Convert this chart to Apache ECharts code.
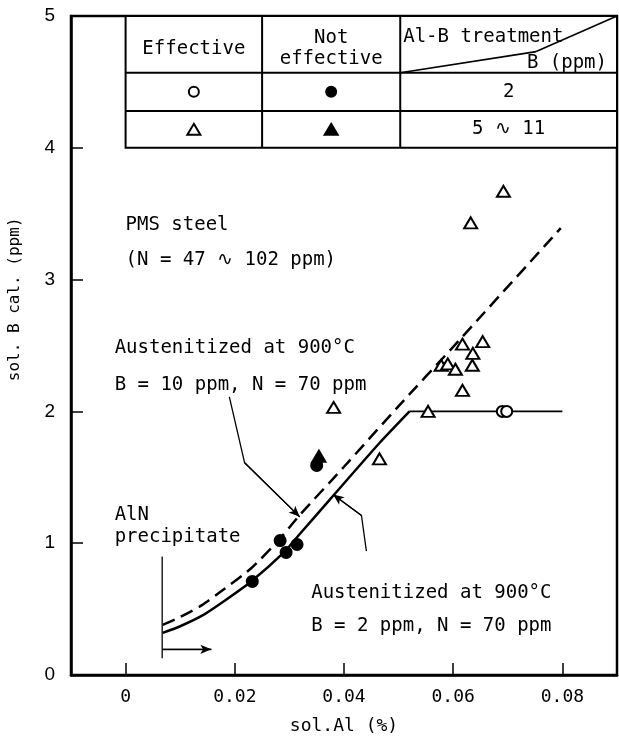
<!DOCTYPE html>
<html>
<head>
<meta charset="utf-8">
<script src="https://cdn.jsdelivr.net/npm/echarts@6/dist/echarts.min.js"></script>
<style>
html, body { margin: 0; padding: 0; background: #fff; }
#main { width: 619px; height: 739px; }
</style>
</head>
<body>
<div id="main"></div>
<script>
//坐标轴刻度
var xTicks = [0, 0.02, 0.04, 0.06, 0.08];
var yTicks = [0, 1, 2, 3, 4, 5];

//测量点 (sol.Al %, sol.B ppm)
var effCircle = [[0.0690, 2.0], [0.0698, 2.0]];
var notEffCircle = [[0.0232, 0.71], [0.0283, 1.02], [0.0294, 0.93], [0.0314, 0.99], [0.0350, 1.59]];
var effTriangle = [[0.0381, 2.03], [0.0465, 1.64], [0.0554, 2.0], [0.0578, 2.35], [0.0590, 2.36],
	[0.0604, 2.32], [0.0617, 2.51], [0.0617, 2.16], [0.0636, 2.44], [0.0635, 2.35],
	[0.0654, 2.53], [0.0632, 3.43], [0.0692, 3.67]];
var notEffTriangle = [[0.0354, 1.66]];

//计算曲线
var curveB2 = [[0.0068, 0.32], [0.010, 0.37], [0.014, 0.45], [0.018, 0.56], [0.023, 0.71],
	[0.029, 0.93], [0.0317, 1.06], [0.0376, 1.34], [0.0465, 1.76], [0.052, 2.0]];
var flatB2 = [[0.052, 2.0], [0.080, 2.0]];
var curveB10 = [[0.0068, 0.38], [0.010, 0.44], [0.014, 0.53], [0.018, 0.65], [0.023, 0.81],
	[0.028, 1.02], [0.0316, 1.20], [0.040, 1.58], [0.050, 2.04], [0.060, 2.49], [0.0797, 3.39]];

//表格文字
var tableHead = ['Effective', 'Not\neffective', 'Al-B treatment', 'B (ppm)'];
var tableB = ['2', '5 \u223F 11'];

//注释文字
var notes = [
	{ text: 'PMS steel', at: [0.0, 3.41] },
	{ text: '(N = 47 \u223F 102 ppm)', at: [0.0, 3.15] },
	{ text: 'Austenitized at 900°C', at: [-0.002, 2.48] },
	{ text: 'B\u2009=\u200910 ppm, N\u2009=\u200970 ppm', at: [-0.002, 2.2] },
	{ text: 'AlN', at: [-0.002, 1.21] },
	{ text: 'precipitate', at: [-0.002, 1.05] },
	{ text: 'Austenitized at 900°C', at: [0.034, 0.62] },
	{ text: 'B\u2009=\u20092 ppm, N\u2009=\u200970 ppm', at: [0.034, 0.37] }
];
//指示线
var leaderB10 = [[0.019, 2.11], [0.0218, 1.61], [0.0319, 1.20]];
var leaderB2 = [[0.0441, 0.94], [0.0432, 1.21], [0.038, 1.37]];
var alnLine = [[0.0067, 0.90], [0.0067, 0.127]];
var alnArrow = [[0.0067, 0.195], [0.0157, 0.195]];

var MONO = '"DejaVu Sans Mono", monospace';

function leader(data, arrow) {
	var n = data.length;
	var s = {
		type: 'line',
		data: data,
		symbol: 'none',
		silent: true,
		z: 3,
		lineStyle: { color: '#000', width: 1.3 }
	};
	if (arrow) {
		s.markLine = {
			silent: true,
			symbol: ['none', 'arrow'],
			symbolSize: [7, 11],
			label: { show: false },
			lineStyle: { color: '#000', width: 1.3, type: 'solid' },
			data: [[{ coord: data[n - 2] }, { coord: data[n - 1] }]]
		};
	}
	return s;
}

function markers(data, symbol, size, filled) {
	return {
		type: 'scatter',
		data: data,
		symbol: symbol,
		symbolSize: size,
		z: 5,
		itemStyle: {
			color: filled ? '#000' : '#fff',
			borderColor: '#000',
			borderWidth: 2,
			opacity: 1
		}
	};
}

var myChart = echarts.init(document.getElementById('main'));
var option = {
	animation: false,
	backgroundColor: '#fff',
	grid: {
		left: 71, right: 2, top: 16, bottom: 64,
		show: true, borderColor: '#000', borderWidth: 2.5,
		outerBoundsMode: 'none'
	},
	xAxis: {
		type: 'value',
		min: -0.01, max: 0.09,
		name: 'sol.Al (%)',
		nameLocation: 'middle',
		nameGap: 42,
		nameTextStyle: { fontFamily: MONO, fontSize: 18, color: '#000' },
		splitLine: { show: false },
		axisLine: { onZero: false, lineStyle: { color: '#000', width: 2.5 } },
		axisTick: { inside: true, length: 12, customValues: xTicks, lineStyle: { color: '#000', width: 1.5 } },
		axisLabel: {
			customValues: xTicks,
			margin: 13,
			fontFamily: MONO, fontSize: 18, color: '#000',
			formatter: function (v) { return v === 0 ? '0' : v.toFixed(2); }
		}
	},
	yAxis: {
		type: 'value',
		min: 0, max: 5, interval: 1,
		splitLine: { show: false },
		axisLine: { onZero: false, lineStyle: { color: '#000', width: 2.5 } },
		axisTick: { inside: true, length: 12, lineStyle: { color: '#000', width: 1.5 } },
		axisLabel: {
			margin: 16,
			fontFamily: '"Liberation Sans", sans-serif', fontSize: 19, color: '#000',
			formatter: function (v) { return yTicks.indexOf(v) >= 0 ? String(v) : ''; }
		}
	},
	series: [
		{
			type: 'line', data: curveB2, symbol: 'none', smooth: 0.2, z: 2,
			lineStyle: { color: '#000', width: 2.5 }
		},
		{
			type: 'line', data: flatB2, symbol: 'none', z: 2,
			lineStyle: { color: '#000', width: 1.6 }
		},
		{
			type: 'line', data: curveB10, symbol: 'none', smooth: 0.2, z: 2,
			lineStyle: { color: '#000', width: 2.5, type: [13, 7] }
		},
		leader(leaderB10, true),
		leader(leaderB2, true),
		leader(alnLine, false),
		leader(alnArrow, true),
		markers(effCircle, 'circle', 11, false),
		markers(notEffCircle, 'circle', 11, true),
		markers(effTriangle, 'triangle', [13, 11], false),
		markers(notEffTriangle, 'triangle', [13, 11], true)
	]
};
myChart.setOption(option);

//绘制表格和注释
function px(p) {
	return myChart.convertToPixel({ gridIndex: 0 }, p);
}

function txt(text, x, y, align, size) {
	return {
		type: 'text', x: x, y: y, z: 20,
		style: {
			text: text, font: (size || 19) + 'px ' + MONO, fill: '#000',
			align: align, verticalAlign: 'middle',
			textAlign: align, textVerticalAlign: 'middle', lineHeight: 21
		}
	};
}

function seg(a, b, w) {
	return {
		type: 'line', z: 20,
		shape: { x1: a[0], y1: a[1], x2: b[0], y2: b[1] },
		style: { stroke: '#000', lineWidth: w || 2 }
	};
}

function tri(cx, cy, filled) {
	return {
		type: 'polygon', z: 21,
		shape: { points: [[cx, cy - 5.5], [cx + 6.5, cy + 5.5], [cx - 6.5, cy + 5.5]] },
		style: { fill: filled ? '#000' : '#fff', stroke: '#000', lineWidth: 2 }
	};
}

function dot(cx, cy, filled) {
	return {
		type: 'circle', z: 21,
		shape: { cx: cx, cy: cy, r: 5 },
		style: { fill: filled ? '#000' : '#fff', stroke: '#000', lineWidth: 2 }
	};
}

var colX = [0, 0.025, 0.0503, 0.09].map(function (v) { return px([v, 0])[0]; });
var rowY = [5, 4.57, 4.28, 4.0].map(function (v) { return px([0, v])[1]; });
var g = [];

//表格线
g.push({
	type: 'rect', z: 19,
	shape: { x: colX[0], y: rowY[0], width: colX[3] - colX[0], height: rowY[3] - rowY[0] },
	style: { fill: '#fff', stroke: '#000', lineWidth: 2 }
});
g.push(seg([colX[1], rowY[0]], [colX[1], rowY[3]]));
g.push(seg([colX[2], rowY[0]], [colX[2], rowY[3]]));
g.push(seg([colX[0], rowY[1]], [colX[3], rowY[1]]));
g.push(seg([colX[0], rowY[2]], [colX[3], rowY[2]]));
//斜线
var k1 = px([0.0503, 4.57]), k2 = px([0.0752, 4.73]), k3 = px([0.09, 5]);
g.push(seg(k1, k2, 1.6));
g.push(seg(k2, k3, 1.6));

function midX(i) { return (colX[i] + colX[i + 1]) / 2; }
function midY(i) { return (rowY[i] + rowY[i + 1]) / 2; }

g.push(txt(tableHead[0], midX(0), midY(0) + 5, 'center'));
g.push(txt(tableHead[1], midX(1), midY(0) + 4, 'center'));
g.push(txt(tableHead[2], colX[2] + 3, rowY[0] + 21, 'left'));
g.push(txt(tableHead[3], colX[3] - 10, rowY[1] - 10, 'right'));

g.push(dot(midX(0), midY(1), false));
g.push(dot(midX(1), midY(1), true));
g.push(txt(tableB[0], midX(2), midY(1), 'center'));
g.push(tri(midX(0), midY(2), false));
g.push(tri(midX(1), midY(2), true));
g.push(txt(tableB[1], midX(2), midY(2), 'center'));

//注释
for (var i = 0; i < notes.length; i++) {
	var p = px(notes[i].at);
	g.push(txt(notes[i].text, p[0], p[1], 'left'));
}

//纵轴名称
var yn = px([0, 2.85]);
g.push({
	type: 'text', x: 15, y: yn[1], rotation: Math.PI / 2, z: 20,
	style: {
		text: 'sol. B cal. (ppm)', font: '16px ' + MONO, fill: '#000',
		align: 'center', verticalAlign: 'middle',
		textAlign: 'center', textVerticalAlign: 'middle'
	}
});

myChart.setOption({ graphic: g });
</script>
</body>
</html>
